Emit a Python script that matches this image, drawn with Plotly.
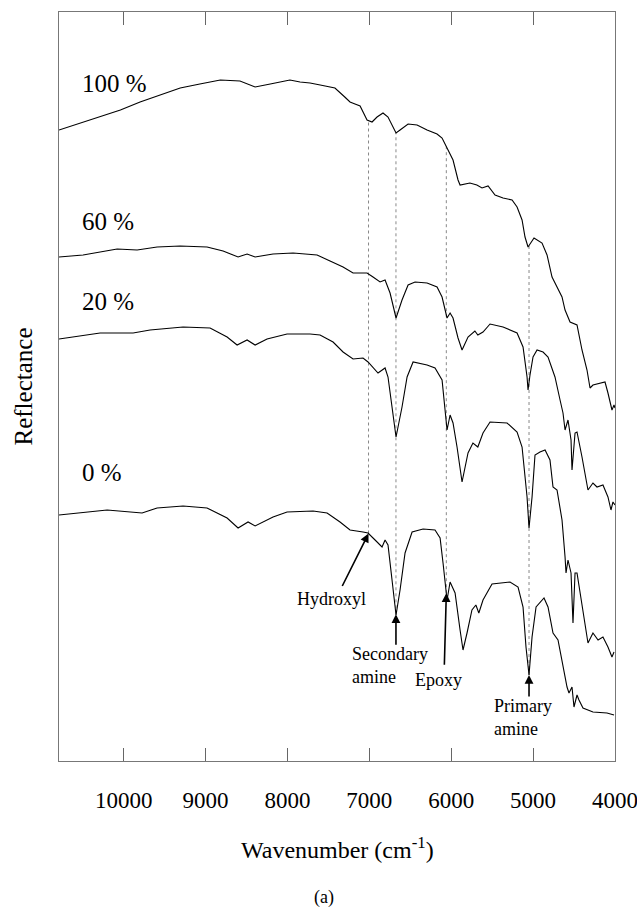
import numpy as np
import plotly.graph_objects as go

# NIR reflectance spectra (offset, arbitrary units) at different cure conversions
wn_100 = [10790, 10530, 10290, 10040, 9800, 9555, 9310, 9070, 8820, 8580, 8395, 8210, 7970, 7846,
          7724, 7600, 7420, 7300, 7236, 7175, 7113, 7028, 6967, 6906, 6833, 6772, 6674, 6625, 6527,
          6417, 6295, 6173, 6112, 6051, 5978, 5917, 5892, 5772, 5687, 5624, 5550, 5465, 5367, 5257,
          5196, 5135, 5099, 5062, 4989, 4891, 4830, 4769, 4708, 4647, 4610, 4549, 4464, 4403, 4342,
          4305, 4269, 4183, 4122, 4086, 4037, 4012, 4000]
r_100 = [631, 638, 645, 651, 659, 666, 673, 677, 681, 680, 674, 677, 681, 679,
         678, 676, 673, 664, 659, 657, 655, 641, 639, 644, 648, 644, 628, 631, 637,
         636, 631, 627, 623, 613, 601, 581, 576, 578, 576, 573, 575, 566, 563, 561,
         554, 541, 524, 514, 523, 518, 506, 484, 474, 464, 451, 439, 436, 411, 391,
         373, 376, 378, 379, 368, 351, 356, 353]

wn_60 = [10790, 10496, 10080, 9836, 9592, 9311, 8982, 8786, 8603, 8493, 8395, 8176, 7931, 7638,
         7480, 7321, 7199, 7028, 6955, 6869, 6808, 6747, 6674, 6601, 6527, 6442, 6295, 6173, 6112,
         6075, 6051, 6014, 5978, 5917, 5868, 5795, 5711, 5675, 5612, 5526, 5367, 5196, 5123, 5074,
         5062, 5038, 5001, 4952, 4879, 4818, 4733, 4671, 4635, 4610, 4574, 4537, 4525, 4488, 4464,
         4403, 4330, 4269, 4220, 4147, 4086, 4049, 4025, 4000]
r_60 = [504, 506, 512, 511, 514, 515, 514, 510, 504, 507, 504, 507, 508, 506,
        500, 494, 488, 488, 484, 479, 481, 468, 443, 461, 476, 479, 478, 474, 464,
        451, 443, 448, 443, 423, 411, 424, 430, 426, 429, 437, 434, 428, 414, 384,
        371, 386, 404, 411, 409, 404, 384, 361, 348, 331, 341, 321, 291, 328, 329,
        304, 271, 278, 274, 276, 264, 251, 259, 256]

wn_20 = [10790, 10288, 9885, 9678, 9275, 8945, 8737, 8615, 8493, 8395, 8249, 8005, 7724, 7602,
         7443, 7321, 7199, 7077, 7016, 6894, 6808, 6772, 6674, 6601, 6539, 6466, 6295, 6198, 6112,
         6051, 6014, 5978, 5929, 5868, 5795, 5735, 5675, 5612, 5526, 5318, 5196, 5135, 5074, 5050,
         5013, 4977, 4916, 4854, 4794, 4757, 4708, 4647, 4610, 4598, 4574, 4537, 4513, 4488, 4464,
         4391, 4330, 4269, 4207, 4147, 4086, 4037, 4012]
r_20 = [422, 428, 428, 431, 434, 433, 424, 416, 421, 416, 422, 427, 427, 426,
        419, 409, 402, 403, 399, 388, 393, 384, 324, 354, 384, 399, 396, 393, 381,
        331, 346, 338, 314, 279, 308, 318, 314, 328, 339, 338, 329, 314, 264, 233,
        264, 306, 309, 311, 301, 274, 271, 241, 204, 188, 201, 188, 138, 188, 188,
        148, 118, 128, 121, 124, 114, 104, 109]

wn_0 = [10790, 10202, 9775, 9592, 9275, 8982, 8737, 8603, 8481, 8395, 8176, 8005, 7687, 7516,
        7358, 7236, 7077, 7016, 6930, 6845, 6808, 6772, 6723, 6674, 6625, 6564, 6478, 6344, 6198,
        6136, 6100, 6051, 6014, 5953, 5892, 5856, 5807, 5747, 5699, 5663, 5612, 5502, 5282, 5184,
        5123, 5087, 5050, 5013, 4964, 4916, 4867, 4818, 4757, 4696, 4635, 4586, 4562, 4525, 4501,
        4464, 4440, 4391, 4269, 4098, 4012]
r_0 = [246, 251, 248, 253, 255, 253, 243, 233, 239, 235, 244, 249, 250, 248,
       239, 231, 229, 228, 221, 214, 221, 216, 181, 146, 171, 208, 229, 232, 231,
       223, 198, 161, 179, 168, 131, 111, 128, 151, 156, 148, 161, 177, 179, 174,
       154, 114, 86, 124, 154, 158, 163, 154, 128, 121, 94, 74, 68, 74, 54,
       66, 61, 53, 49, 48, 46]

series = [("100 %", wn_100, r_100), ("60 %", wn_60, r_60),
          ("20 %", wn_20, r_20), ("0 %", wn_0, r_0)]

# Assigned absorption bands (cm-1)
band_names = ["Hydroxyl", "Secondary<br>amine", "Epoxy", "Primary<br>amine"]
band_wn = [7010, 6675, 6060, 5050]

x_ticks = [10000, 9000, 8000, 7000, 6000, 5000, 4000]

FONT = "Liberation Serif, Times New Roman, serif"

fig = go.Figure()
for name, wn, r in series:
    fig.add_trace(go.Scatter(x=wn, y=r, mode="lines", name=name,
                             line=dict(color="black", width=1.1), showlegend=False))

# Series labels at the left of each spectrum
label_y = [678, 540, 460, 289]
for (name, wn, r), ly in zip(series, label_y):
    fig.add_annotation(x=10530, y=ly, xref="x", yref="y", text=name, showarrow=False,
                       xanchor="left", yanchor="middle",
                       font=dict(family=FONT, size=25, color="black"))

# Dotted guides from top spectrum down to bottom spectrum at each band
top_wn, top_r = np.array(wn_100[::-1]), np.array(r_100[::-1])
bot_wn, bot_r = np.array(wn_0[::-1]), np.array(r_0[::-1])
for b in band_wn:
    y_top = float(np.interp(b, top_wn, top_r))
    y_bot = float(np.interp(b, bot_wn, bot_r))
    fig.add_shape(type="line", xref="x", yref="y", x0=b, x1=b, y0=y_bot, y1=y_top,
                  line=dict(color="#888888", width=1, dash="dot"), layer="below")

# Arrows pointing to the bands on the bottom spectrum, with their labels
arrow_tail = [(-27, 54), (0, 32), (-2, 73), (0, 23)]
label_pos = [(-37, 66, "center"), (-46, 51, "left"), (-8, 87, "center"), (-37, 42, "left")]
for b, name, (ax, ay), (dx, dy, al) in zip(band_wn, band_names, arrow_tail, label_pos):
    y_bot = float(np.interp(b, bot_wn, bot_r))
    fig.add_annotation(x=b, y=y_bot, xref="x", yref="y", text="", showarrow=True,
                       ax=ax, ay=ay, axref="pixel", ayref="pixel",
                       arrowhead=2, arrowsize=1.1, arrowwidth=1.6, arrowcolor="black")
    fig.add_annotation(x=b, y=y_bot, xref="x", yref="y", text=name, showarrow=False,
                       xshift=dx, yshift=-dy, align="left",
                       xanchor="left" if al == "left" else "center", yanchor="middle",
                       font=dict(family=FONT, size=18, color="black"))

# Axis titles and panel tag
fig.add_annotation(x=0.5, y=-0.116, xref="paper", yref="paper",
                   text="Wavenumber (cm<sup>-1</sup>)", showarrow=False,
                   xanchor="center", yanchor="middle",
                   font=dict(family=FONT, size=24, color="black"))
fig.add_annotation(x=-0.063, y=0.50, xref="paper", yref="paper", text="Reflectance",
                   showarrow=False, textangle=-90, xanchor="center", yanchor="middle",
                   font=dict(family=FONT, size=25, color="black"))
fig.add_annotation(x=0.477, y=-0.182, xref="paper", yref="paper", text="(a)",
                   showarrow=False, xanchor="center", yanchor="middle",
                   font=dict(family=FONT, size=18, color="black"))

fig.update_layout(
    width=637, height=907,
    margin=dict(l=59, r=22, t=12, b=146, autoexpand=False),
    paper_bgcolor="white", plot_bgcolor="white",
    font=dict(family=FONT, color="black"),
    xaxis=dict(range=[10790, 4000], tickvals=x_ticks, ticktext=[str(t) for t in x_ticks],
               ticks="inside", ticklen=13, tickwidth=1, tickcolor="#666666",
               showline=True, linecolor="#777777", linewidth=1, mirror="ticks",
               showgrid=False, zeroline=False, ticklabelstandoff=18,
               ticklabeloverflow="allow", automargin=False,
               tickfont=dict(family=FONT, size=23, color="black")),
    yaxis=dict(range=[0, 749], showticklabels=False, ticks="", automargin=False,
               showline=True, linecolor="#777777", linewidth=1, mirror=True,
               showgrid=False, zeroline=False),
)

fig.write_html("out.html")
